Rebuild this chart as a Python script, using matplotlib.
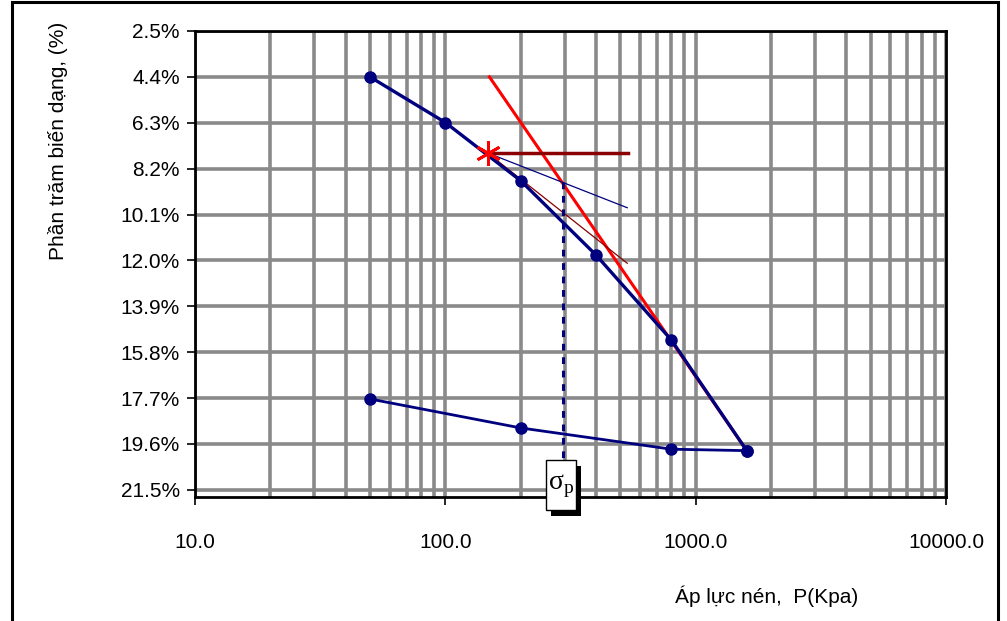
import numpy as np
import matplotlib.pyplot as plt
from matplotlib.patches import Rectangle
from matplotlib.ticker import FixedLocator, FuncFormatter

plt.rcParams['font.family'] = ['Liberation Sans', 'DejaVu Sans']

# loading branch
load_p = [50, 100, 200, 400, 800, 1600]
load_eps = [4.40, 6.29, 8.70, 11.78, 15.30, 19.88]

# unloading branch
unload_p = [1600, 800, 200, 50]
unload_eps = [19.88, 19.82, 18.94, 17.74]

# Casagrande construction
star_p, star_eps = 147.5, 7.55
horiz_p = [147.5, 536]
horiz_eps = [7.55, 7.55]
tangent_p = [147.5, 533]
tangent_eps = [7.55, 9.82]
bisector_p = [147.5, 533]
bisector_eps = [7.55, 12.12]
virgin_p = [150, 1600]
virgin_eps = [4.40, 19.88]
sigma_p = 295
sigma_eps = [8.75, 21.8]

y_ticks = [2.5, 4.4, 6.3, 8.2, 10.1, 12.0, 13.9, 15.8, 17.7, 19.6, 21.5]
x_major = [10, 100, 1000, 10000]

fig = plt.figure(figsize=(10.07, 6.21), dpi=100)
ax = fig.add_axes([195 / 1007, 1 - 497 / 621, (946 - 195) / 1007, (497 - 31) / 621])

ax.set_xscale('log')
ax.set_xlim(10, 10000)
ax.set_ylim(21.8, 2.5)

# grid: vertical at every log step, horizontal at major ticks
minor_x = [m * 10 ** e for e in range(1, 4) for m in range(2, 10)]
for xv in minor_x + x_major:
    ax.axvline(xv, color='#8a8a8a', lw=2.6, zorder=0)
for yv in y_ticks:
    ax.axhline(yv, color='#8a8a8a', lw=2.6, zorder=0)

ax.xaxis.set_major_locator(FixedLocator(x_major))
ax.xaxis.set_minor_locator(FixedLocator([]))
ax.xaxis.set_major_formatter(FuncFormatter(lambda v, pos: f'{v:.1f}'))
ax.yaxis.set_major_locator(FixedLocator(y_ticks))
ax.yaxis.set_major_formatter(FuncFormatter(lambda v, pos: f'{v:.1f}%'))
ax.tick_params(axis='both', labelsize=15, direction='out', length=6, width=1.2)
ax.tick_params(axis='x', pad=20)
ax.tick_params(axis='y', pad=5)
for s in ax.spines.values():
    s.set_linewidth(2)

navy = '#00007f'
ax.plot(virgin_p, virgin_eps, color='red', lw=2.2, zorder=3)
ax.plot(load_p, load_eps, color=navy, lw=2.4, marker='o', ms=8, zorder=4)
ax.plot(unload_p, unload_eps, color=navy, lw=2.0, marker='o', ms=8, zorder=4)
ax.plot(horiz_p, horiz_eps, color='#8b0000', lw=2.5, zorder=3)
ax.plot(tangent_p, tangent_eps, color=navy, lw=0.9, zorder=3)
ax.plot(bisector_p, bisector_eps, color='#8b0000', lw=0.9, zorder=3)
ax.plot([sigma_p, sigma_p], sigma_eps, color=navy, lw=2.2, ls=(0, (2.2, 2.2)), zorder=3)
ax.plot(star_p, star_eps, marker=(6, 2, 0), ms=18, mew=2, color='red', zorder=5)

# sigma_p label box with shadow (figure pixel coordinates)
def fig_rect(x0, y0, x1, y1, **kw):
    return Rectangle((x0 / 1007, 1 - y1 / 621), (x1 - x0) / 1007, (y1 - y0) / 621,
                     transform=fig.transFigure, **kw)

fig.patches.append(fig_rect(551, 466, 581, 516, facecolor='black', edgecolor='none', zorder=10))
fig.patches.append(fig_rect(546, 460, 576, 510, facecolor='white', edgecolor='black', lw=1, zorder=11))
fig.text(561 / 1007, 1 - 486 / 621, r'σ$_{\mathregular{p}}$', fontsize=20,
         family='Liberation Serif', ha='center', va='center', zorder=12)

fig.text(58 / 1007, 1 - 141 / 621, 'Phần trăm biến dạng, (%)', rotation=90,
         fontsize=15, ha='center', va='center')
fig.text(675 / 1007, 1 - 596 / 621, 'Áp lực nén,  P(Kpa)', fontsize=15,
         ha='left', va='center')

# outer chart border
fig.patches.append(fig_rect(12, 2, 998, 640, facecolor='none', edgecolor='black', lw=2.2, zorder=20))

fig.savefig('out.png', dpi=100)
